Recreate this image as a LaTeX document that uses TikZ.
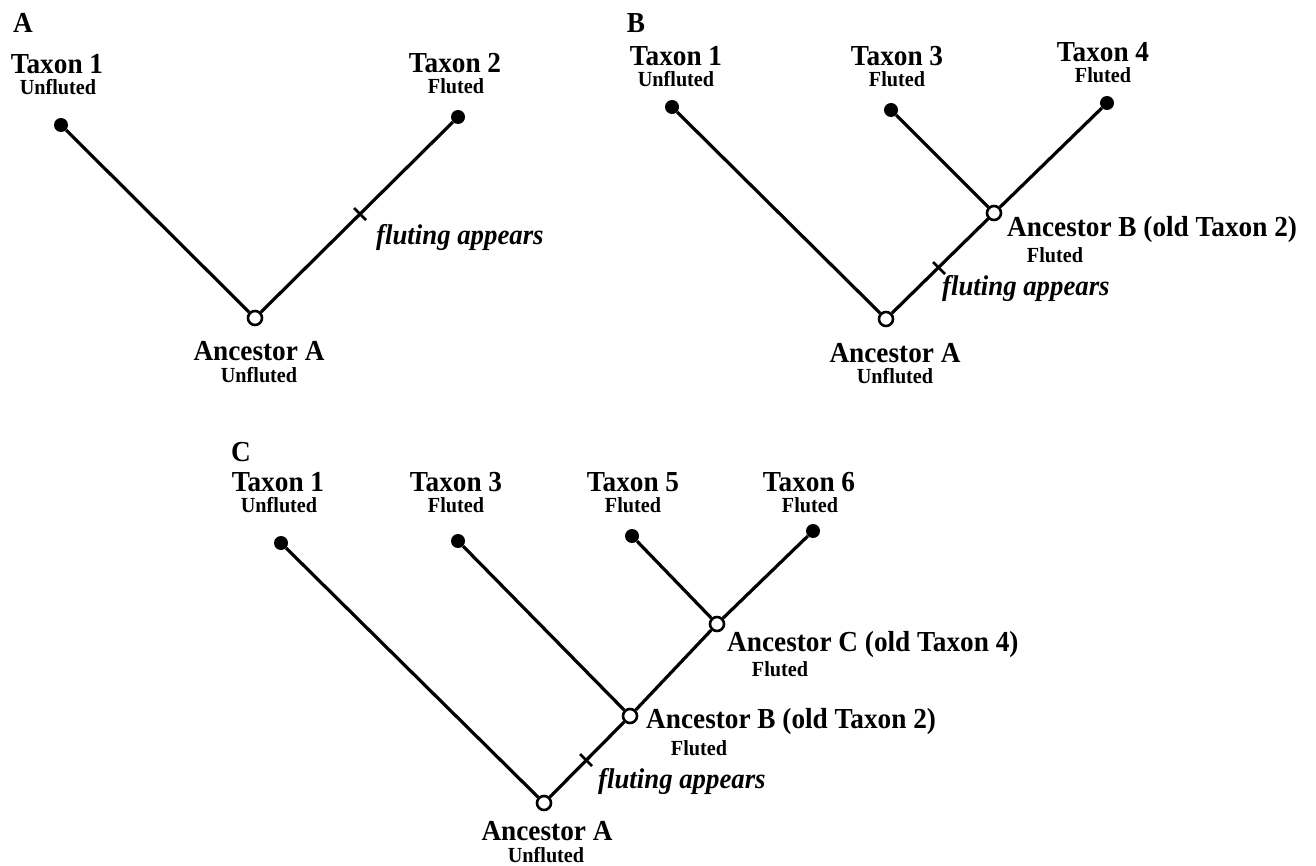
\documentclass[tikz,border=0pt]{standalone}
\usepackage{fontspec}
\setmainfont{Liberation Serif}
\newfontfamily\labfont[FakeStretch=0.94]{Liberation Serif}
\usetikzlibrary{calc}
\begin{document}
\begin{tikzpicture}[x=1pt,y=-1pt,
  branch/.style={line width=3.2pt},
  leaf/.style={circle,fill=black,inner sep=0pt,minimum size=14pt},
  anc/.style={circle,draw=black,fill=white,line width=2.6pt,inner sep=0pt,minimum size=14pt},
  lab/.style={font=\labfont\fontsize{29}{32}\selectfont\bfseries,anchor=base,inner sep=0pt,text depth=0pt},
  sub/.style={font=\labfont\fontsize{21.5}{25}\selectfont\bfseries,anchor=base,inner sep=0pt,text depth=0pt,text height=14pt},
  note/.style={font=\labfont\fontsize{28.5}{31}\selectfont\bfseries\itshape,anchor=base west,inner sep=0pt},
  tickmark/.style={line width=2.6pt}]
\useasboundingbox[fill=white] (0,0) rectangle (1316,866);

% ---------------- Panel A ----------------
\node[lab] (pA) at (23,33) {A};
\node[lab] (A1t) at (57,74) {Taxon 1};
\node[sub] (A1s) at (58,95) {Unfluted};
\node[lab] (A2t) at (455,73) {Taxon 2};
\node[sub] (A2s) at (456,94) {Fluted};
\node[leaf] (A1) at (61,125) {};
\node[leaf] (A2) at (458,117) {};
\node[anc] (AA) at (255,318) {};
\draw[branch] (AA) -- (A1);
\draw[branch] (AA) -- (A2);
\coordinate (Atick) at (360,214);
\draw[tickmark] ([shift={(-6,-6)}]Atick) -- ([shift={(6,6)}]Atick);
\node[note] (Afl) at (376,245) {fluting appears};
\node[lab] (AAt) at (259,360) {Ancestor A};
\node[sub] (AAs) at (259,382) {Unfluted};

% ---------------- Panel B ----------------
\node[lab] (pB) at (636,33) {B};
\node[lab] (B1t) at (676,66) {Taxon 1};
\node[sub] (B1s) at (676,87) {Unfluted};
\node[lab] (B3t) at (897,66) {Taxon 3};
\node[sub] (B3s) at (897,87) {Fluted};
\node[lab] (B4t) at (1103,62) {Taxon 4};
\node[sub] (B4s) at (1103,83) {Fluted};
\node[leaf] (B1) at (672,107) {};
\node[leaf] (B3) at (891,110) {};
\node[leaf] (B4) at (1107,103) {};
\node[anc] (BA) at (886,319) {};
\node[anc] (BB) at (994,213) {};
\draw[branch] (BA) -- (B1);
\draw[branch] (BA) -- (BB);
\draw[branch] (BB) -- (B3);
\draw[branch] (BB) -- (B4);
\coordinate (Btick) at (939,268);
\draw[tickmark] ([shift={(-6,-6)}]Btick) -- ([shift={(6,6)}]Btick);
\node[note] (Bfl) at (942,296) {fluting appears};
\node[lab,anchor=base west] (BBt) at (1007,237) {Ancestor B (old Taxon 2)};
\node[sub] (BBs) at (1055,263) {Fluted};
\node[lab] (BAt) at (895,362) {Ancestor A};
\node[sub] (BAs) at (895,383) {Unfluted};

% ---------------- Panel C ----------------
\node[lab] (pC) at (241,461) {C};
\node[lab] (C1t) at (278,491) {Taxon 1};
\node[sub] (C1s) at (279,512) {Unfluted};
\node[lab] (C3t) at (456,491) {Taxon 3};
\node[sub] (C3s) at (456,512) {Fluted};
\node[lab] (C5t) at (633,491) {Taxon 5};
\node[sub] (C5s) at (633,512) {Fluted};
\node[lab] (C6t) at (809,491) {Taxon 6};
\node[sub] (C6s) at (810,512) {Fluted};
\node[leaf] (C1) at (281,543) {};
\node[leaf] (C3) at (458,541) {};
\node[leaf] (C5) at (632,536) {};
\node[leaf] (C6) at (813,531) {};
\node[anc] (CA) at (544,803) {};
\node[anc] (CB) at (630,716) {};
\node[anc] (CC) at (717,624) {};
\draw[branch] (CA) -- (C1);
\draw[branch] (CA) -- (CB);
\draw[branch] (CB) -- (C3);
\draw[branch] (CB) -- (CC);
\draw[branch] (CC) -- (C5);
\draw[branch] (CC) -- (C6);
\coordinate (Ctick) at (586,760);
\draw[tickmark] ([shift={(-6,-6)}]Ctick) -- ([shift={(6,6)}]Ctick);
\node[note] (Cfl) at (598,788) {fluting appears};
\node[lab,anchor=base west] (CCt) at (727,651) {Ancestor C (old Taxon 4)};
\node[sub] (CCs) at (780,676) {Fluted};
\node[lab,anchor=base west] (CBt) at (646,728) {Ancestor B (old Taxon 2)};
\node[sub] (CBs) at (699,755) {Fluted};
\node[lab] (CAt) at (547,840) {Ancestor A};
\node[sub] (CAs) at (546,862) {Unfluted};
\end{tikzpicture}
\end{document}
